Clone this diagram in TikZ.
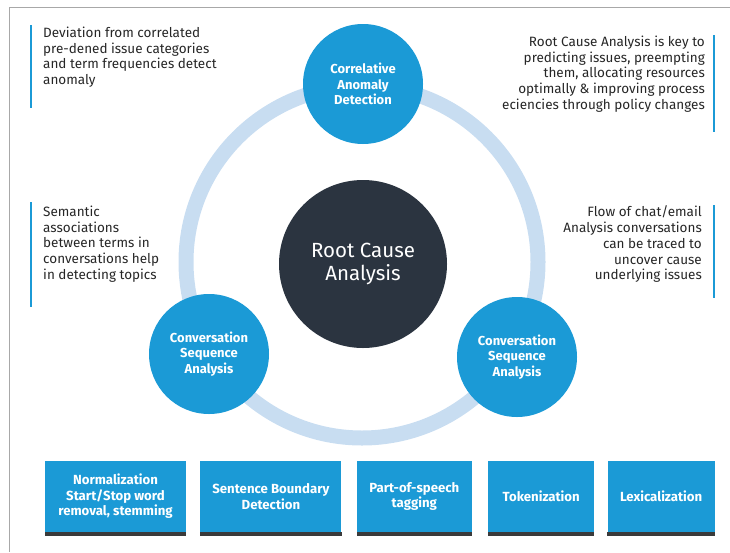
\documentclass[tikz,border=0pt]{standalone}
\usepackage{fontspec}
\setmainfont{Fira Sans}
\usetikzlibrary{positioning}

\definecolor{rcblue}{HTML}{1B9AD6}
\definecolor{rcring}{HTML}{C8DDF1}
\definecolor{rcdark}{HTML}{2B3440}
\definecolor{rcstrip}{HTML}{3A3A3A}
\definecolor{rctext}{HTML}{262626}
\definecolor{rcframe}{HTML}{A8A8A8}

\tikzset{
	stage/.style={circle, fill=rcblue, minimum size=120pt, inner sep=0pt, text=white, align=center, font=\bfseries\fontsize{13}{15.5}\selectfont},
	hub/.style={circle, fill=rcdark, minimum size=168pt, inner sep=0pt, text=white, align=center, font=\fontsize{20.5}{23.5}\selectfont},
	note/.style={inner sep=0pt, text=rctext, font=\fontsize{13.5}{15.8}\selectfont},
	notebar/.style={draw=rcblue, line width=2.5pt},
	stepbox/.style={fill=rcblue, text=white, align=center, minimum height=71pt, inner sep=0pt, font=\bfseries\fontsize{13.2}{15.6}\selectfont},
}

\begin{document}
\begin{tikzpicture}[x=1pt, y=-1pt]
	\useasboundingbox (0,0) rectangle (730,552);
	\draw[rcframe, line width=1pt] (730,7) -- (9,7) -- (9,552);

	% ring and circles
	\coordinate (c) at (362,262);
	\draw[rcring, line width=15pt] (c) circle [radius=176pt];
	\node[hub] (rca) at (363,264) {Root Cause\\Analysis};
	\node[stage] (cad) at (363,84) {Correlative\\Anomaly\\Detection};
	\node[stage] (csl) at (209,354) {Conversation\\Sequence\\Analysis};
	\node[stage] (csr) at (517,357) {Conversation\\Sequence\\Analysis};

	% notes
	\node[note, anchor=north west, align=left] (n1) at (43,26.5) {Deviation from correlated\\pre-dened issue categories\\and term frequencies detect\\anomaly};
	\node[note, anchor=north east, align=right] (n2) at (705,35.5) {Root Cause Analysis is key to\\predicting issues, preempting\\them, allocating resources\\optimally \& improving process\\eciencies through policy changes};
	\node[note, anchor=north west, align=left] (n3) at (43,205.5) {Semantic\\associations\\between terms in\\conversations help\\in detecting topics};
	\node[note, anchor=north east, align=right] (n4) at (702,205.5) {Flow of chat/email\\Analysis conversations\\can be traced to\\uncover cause\\underlying issues};
	\draw[notebar] (31,25) -- (31,108);
	\draw[notebar] (714,35) -- (714,132);
	\draw[notebar] (31,202) -- (31,307);
	\draw[notebar] (714,205) -- (714,298);

	% preprocessing steps
	\node[stepbox, minimum width=141pt] (norm) at (115.5,496.5) {Normalization\\Start/Stop word\\removal, stemming};
	\node[stepbox, minimum width=141pt, right=14pt of norm] (sbd) {Sentence Boundary\\Detection};
	\node[stepbox, minimum width=115pt, right=15pt of sbd] (pos) {Part-of-speech\\tagging};
	\node[stepbox, minimum width=106pt, right=16pt of pos] (tok) {Tokenization};
	\node[stepbox, minimum width=107pt, right=13pt of tok] (lex) {Lexicalization};
	\foreach \b in {norm,sbd,pos,tok,lex}
		\fill[rcstrip] (\b.south west) rectangle ([yshift=-4pt]\b.south east);
\end{tikzpicture}
\end{document}
